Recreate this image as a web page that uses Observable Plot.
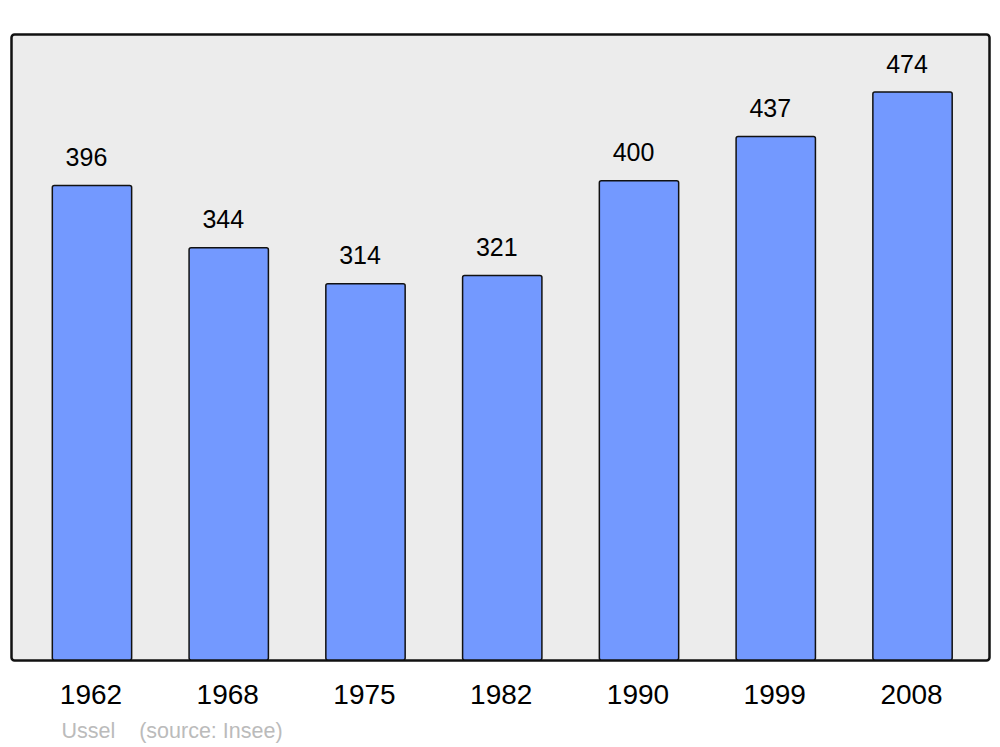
<!DOCTYPE html>
<html>
<head>
<meta charset="utf-8">
<script src="https://cdn.jsdelivr.net/npm/d3@7"></script>
<script src="https://cdn.jsdelivr.net/npm/@observablehq/plot@0.6"></script>
<style>
  html, body { margin: 0; padding: 0; background: #fff; }
  svg { display: block; }
</style>
</head>
<body>
<div id="chart"></div>
<script>
const years = ["1962", "1968", "1975", "1982", "1990", "1999", "2008"];
const population = [396, 344, 314, 321, 400, 437, 474];
const captionText = "Ussel\u00a0\u00a0\u00a0\u00a0(source: Insee)";

const data = years.map((y, i) => ({year: y, pop: population[i]}));
const font = "'Liberation Sans', Arial, sans-serif";

const chart = Plot.plot({
  width: 1000,
  height: 747,
  marginTop: 34,
  marginBottom: 87,
  marginLeft: 11,
  marginRight: 11,
  style: {fontFamily: font, background: "#ffffff"},
  x: {domain: years, range: [23.6, 980.9], paddingInner: 0.42, paddingOuter: 0.21, round: false, axis: null},
  y: {domain: [0, 522.5], axis: null},
  marks: [
    Plot.frame({fill: "#ececec", stroke: "#111", strokeWidth: 2.5, rx: 3}),
    Plot.barY(data, {x: "year", y: "pop", fill: "#7399ff", stroke: "#111", strokeWidth: 1.5, rx: 2}),
    Plot.text(data, {x: "year", y: "pop", text: d => String(d.pop), dx: -6, dy: -28, lineAnchor: "middle", fontSize: 25, fill: "#000"}),
    Plot.text(data, {x: "year", text: "year", frameAnchor: "bottom", dx: -1.5, dy: 35, lineAnchor: "middle", fontSize: 28, fill: "#000"}),
    Plot.text([captionText], {frameAnchor: "bottom-left", text: d => d, dx: 50, dy: 71, textAnchor: "start", lineAnchor: "middle", fontSize: 21.5, fill: "#bbbbbb"})
  ]
});
document.getElementById("chart").append(chart);
</script>
</body>
</html>
